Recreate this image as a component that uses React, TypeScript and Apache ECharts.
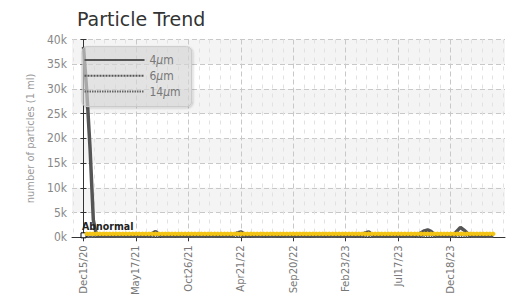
import React, { useEffect, useRef } from "react";
import * as echarts from "echarts";

// x tick labels and their sample index
const tickLabels = ["Dec15/20", "May17/21", "Oct26/21", "Apr21/22", "Sep20/22", "Feb23/23", "Jul17/23", "Dec18/23"];
const tickIndex = [0, 16, 32, 48, 64, 80, 96, 112];

const seriesNames = ["4μm", "6μm", "14μm"];

// 4um counts per sample
const p4 = [
  38500, 29500, 18000, 3500, 320, 280, 300, 260, 310, 290, 270, 300, 280, 310, 290, 300,
  280, 300, 320, 350, 500, 800, 1150, 600, 330, 290, 300, 280, 310, 300, 290, 280,
  300, 290, 310, 300, 280, 290, 300, 310, 290, 300, 280, 300, 320, 340, 600, 900,
  1100, 700, 330, 300, 290, 280, 300, 310, 290, 300, 280, 290, 300, 310, 300, 290,
  280, 300, 290, 310, 300, 290, 280, 300, 310, 290, 300, 280, 290, 300, 310, 300,
  290, 300, 310, 300, 350, 600, 900, 1100, 500, 320, 300, 290, 300, 280, 290, 300,
  310, 300, 290, 300, 320, 350, 500, 900, 1300, 1500, 1200, 600, 330, 300, 290, 300,
  320, 600, 1300, 2000, 1500, 900, 400, 320, 300, 290, 300, 310, 290, 300,
];

// 6um counts per sample
const p6 = [
  200, 190, 180, 170, 160, 150, 160, 150, 170, 160, 150, 160, 150, 170, 160, 150,
  150, 160, 170, 180, 250, 350, 450, 300, 180, 160, 150, 150, 160, 150, 160, 150,
  160, 150, 160, 150, 150, 160, 150, 160, 150, 160, 150, 160, 170, 180, 300, 400,
  450, 300, 180, 160, 150, 150, 160, 150, 160, 150, 150, 160, 150, 160, 150, 160,
  150, 160, 150, 160, 150, 160, 150, 160, 150, 160, 150, 150, 160, 150, 160, 150,
  160, 150, 160, 150, 180, 300, 400, 450, 250, 170, 160, 150, 160, 150, 150, 160,
  150, 160, 150, 160, 170, 180, 250, 400, 550, 600, 500, 300, 180, 160, 150, 160,
  170, 300, 550, 800, 600, 400, 200, 170, 160, 150, 160, 150, 160, 150,
];

// 14um counts per sample
const p14 = [
  80, 70, 70, 60, 60, 50, 60, 50, 60, 60, 50, 60, 50, 60, 60, 50,
  50, 60, 60, 70, 90, 120, 150, 100, 70, 60, 50, 50, 60, 50, 60, 50,
  60, 50, 60, 50, 50, 60, 50, 60, 50, 60, 50, 60, 60, 70, 100, 130,
  150, 100, 70, 60, 50, 50, 60, 50, 60, 50, 50, 60, 50, 60, 50, 60,
  50, 60, 50, 60, 50, 60, 50, 60, 50, 60, 50, 50, 60, 50, 60, 50,
  60, 50, 60, 50, 70, 100, 130, 150, 90, 60, 60, 50, 60, 50, 50, 60,
  50, 60, 50, 60, 60, 70, 90, 130, 180, 200, 170, 100, 70, 60, 50, 60,
  60, 100, 180, 260, 200, 130, 80, 60, 60, 50, 60, 50, 60, 50,
];

// status line (yellow), first sample flagged abnormal
const status = [
  400, 700, 700, 700, 700, 700, 700, 700, 700, 700, 700, 700, 700, 700, 700, 700,
  700, 700, 700, 700, 700, 700, 700, 700, 700, 700, 700, 700, 700, 700, 700, 700,
  700, 700, 700, 700, 700, 700, 700, 700, 700, 700, 700, 700, 700, 700, 700, 700,
  700, 700, 700, 700, 700, 700, 700, 700, 700, 700, 700, 700, 700, 700, 700, 700,
  700, 700, 700, 700, 700, 700, 700, 700, 700, 700, 700, 700, 700, 700, 700, 700,
  700, 700, 700, 700, 700, 700, 700, 700, 700, 700, 700, 700, 700, 700, 700, 700,
  700, 700, 700, 700, 700, 700, 700, 700, 700, 700, 700, 700, 700, 700, 700, 700,
  700, 700, 700, 700, 700, 700, 700, 700, 700, 700, 700, 700, 700, 700,
];
const abnormalIndex = [0];
const abnormalText = "Abnormal";

const yTicks = [0, 5000, 10000, 15000, 20000, 25000, 30000, 35000, 40000];

const NARROW = "'DejaVu Sans Condensed', 'DejaVu Sans', sans-serif";

export default function App() {
  const ref = useRef<HTMLDivElement>(null);
  useEffect(() => {
    if (!ref.current) return;
    const chart = echarts.init(ref.current, null, { renderer: "svg" });
    const xMin = -3.51;
    const xMax = 128.6;
    const minorIdx: number[] = [];
    for (let k = -1; k <= 40; k++) {
      if (k % 5 !== 0) minorIdx.push(k * 3.2);
    }
    minorIdx.push(128);
    const toPairs = (arr: number[]) => arr.map((v, i) => [i, v]);
    const statusData = status.map((v, i) => {
      if (abnormalIndex.indexOf(i) >= 0) {
        return {
          value: [i, v],
          symbol: "rect",
          symbolSize: 5,
          itemStyle: { color: "#fff", borderColor: "#000", borderWidth: 1 },
          label: {
            show: true,
            formatter: abnormalText,
            position: [1.5, -11.5],
            fontFamily: NARROW,
            fontWeight: "bold",
            fontSize: 10.5,
            color: "#222",
          },
        };
      }
      return { value: [i, v] };
    });
    const lineStyles = [
      { color: "#555", width: 3.5, type: "solid" },
      { color: "#555", width: 3, type: [2, 1] },
      { color: "#666", width: 2, type: [1.5, 1] },
    ];
    const vals = [p4, p6, p14];
    const lineSeries = [2, 1, 0].map((k) => ({
      name: seriesNames[k],
      type: "line",
      symbol: "none",
      data: toPairs(vals[k]),
      color: lineStyles[k].color,
      lineStyle: lineStyles[k],
      z: 2,
    }));
    chart.setOption({
      animation: false,
      title: {
        text: "Particle Trend",
        left: 72,
        top: 4,
        textStyle: { fontFamily: "DejaVu Sans", fontSize: 19, fontWeight: "normal", color: "#333" },
      },
      grid: {
        left: 72,
        right: 2,
        top: 39.5,
        bottom: 60.7,
        containLabel: false,
        outerBoundsMode: "none",
      },
      legend: {
        data: seriesNames,
        orient: "vertical",
        left: 82,
        top: 46.7,
        padding: [6.3, 11, 8, 1.5],
        itemWidth: 60,
        itemHeight: 6,
        itemGap: 1.8,
        itemTextGap: 3,
        backgroundColor: "rgba(222,222,222,0.6)",
        borderColor: "#c8c8c8",
        borderWidth: 1,
        borderRadius: 5,
        shadowColor: "rgba(0,0,0,0.25)",
        shadowBlur: 2,
        shadowOffsetX: 1,
        shadowOffsetY: 1,
        itemStyle: { opacity: 0, borderWidth: 0 },
        formatter: (n: string) => n.replace("μ", "{i|μ}"),
        textStyle: {
          fontFamily: NARROW,
          fontSize: 12,
          lineHeight: 14,
          color: "#777",
          rich: {
            i: { fontFamily: NARROW, fontSize: 12, lineHeight: 14, color: "#777", fontStyle: "italic" },
          },
        },
      },
      xAxis: [
        {
          type: "value",
          min: xMin,
          max: xMax,
          axisLine: { show: true, onZero: false, lineStyle: { color: "#333", width: 1 } },
          axisTick: { show: true, length: 4, customValues: tickIndex, lineStyle: { color: "#333" } },
          axisLabel: {
            customValues: tickIndex,
            formatter: (v: number) => {
              const j = tickIndex.indexOf(Math.round(v));
              return j >= 0 ? tickLabels[j] : "";
            },
            rotate: 90,
            margin: 8,
            fontFamily: NARROW,
            fontSize: 11.2,
            color: "#777",
          },
          splitLine: { show: true, lineStyle: { color: "#c8c8c8", type: [5, 3] } },
        },
        {
          type: "value",
          min: xMin,
          max: xMax,
          position: "bottom",
          axisLine: { show: false },
          axisTick: { show: false, customValues: minorIdx },
          axisLabel: { show: false, customValues: minorIdx },
          splitLine: { show: true, lineStyle: { color: "#e2e2e2", type: [4, 5] } },
        },
      ],
      yAxis: [
        {
          type: "value",
          min: 0,
          max: 40000,
          interval: 5000,
          name: "number of particles (1 ml)",
          nameLocation: "middle",
          nameGap: 29,
          nameTextStyle: { fontFamily: NARROW, fontSize: 11, color: "#999" },
          axisLine: { show: true, lineStyle: { color: "#333", width: 1 } },
          axisTick: { show: true, length: 3, lineStyle: { color: "#333" } },
          axisLabel: {
            margin: 5,
            fontFamily: NARROW,
            fontSize: 12,
            color: "#888",
            formatter: (v: number) => (yTicks.indexOf(v) >= 0 ? v / 1000 + "k" : ""),
          },
          splitLine: { show: true, lineStyle: { color: "#c8c8c8", type: [5, 3] } },
          splitArea: { show: true, areaStyle: { color: ["rgba(255,255,255,0)", "#f4f4f4"] } },
        },
        {
          type: "value",
          min: 0,
          max: 40000,
          interval: 5000,
          position: "left",
          axisLine: { show: false },
          axisTick: { show: true, inside: true, length: 3, lineStyle: { color: "#333" } },
          axisLabel: { show: false },
          splitLine: { show: false },
        },
      ],
      series: [
        ...lineSeries,
        {
          name: "status",
          type: "line",
          symbol: "circle",
          symbolSize: 4.5,
          color: "#f5c518",
          itemStyle: { color: "#f3c414" },
          lineStyle: { color: "#f5c518", width: 2.5 },
          data: statusData,
          z: 3,
        },
      ],
    });
    return () => chart.dispose();
  }, []);
  return <div ref={ref} style={{ width: 507, height: 298, position: "absolute", left: 0, top: 0 }} />;
}
